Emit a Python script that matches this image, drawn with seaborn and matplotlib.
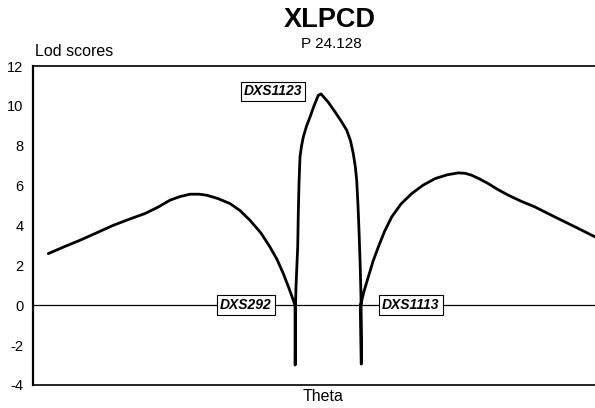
import matplotlib
matplotlib.use("Agg")
import matplotlib.pyplot as plt
import seaborn as sns
import pandas as pd

# theta position (arbitrary units along the map) and LOD score
theta = [15.3, 31, 47, 64, 80.3, 96, 112, 125, 137, 147, 157, 166, 173.7, 185,
         197, 207, 217, 228, 237, 244, 250.3, 256, 260.3, 262,
         262.2, 262.5, 263, 264.7, 265.3, 266, 267, 268.5, 270.3, 273.5, 277,
         281, 285.3, 288, 295, 302, 308, 313.7, 317.5, 320.3, 322.3, 323.7, 325,
         326, 327.2, 328, 328.3, 327.6, 331, 335.3, 340, 345.3, 351.5, 358.7,
         368, 378.7, 390, 402, 414, 425.3, 432, 438.7, 446, 455.3, 465, 475.3,
         488, 502, 515, 528.7, 545, 562]
lod = [2.59, 2.93, 3.26, 3.64, 4.01, 4.31, 4.6, 4.92, 5.27, 5.45, 5.57, 5.57, 5.52, 5.35,
       5.1, 4.75, 4.26, 3.62, 2.92, 2.3, 1.59, 0.85, 0.25, 0.0,
       -3.0, 0.0, 0.92, 2.92, 4.6, 6.1, 7.44, 7.98, 8.44, 8.98, 9.44,
       10.0, 10.53, 10.6, 10.2, 9.7, 9.25, 8.78, 8.25, 7.6, 6.95, 6.27, 5.0,
       3.76, 2.0, 0.42, -2.95, 0.0, 0.7, 1.42, 2.2, 2.92, 3.7, 4.43,
       5.08, 5.6, 6.02, 6.35, 6.54, 6.64, 6.62, 6.52, 6.35, 6.1, 5.8, 5.52,
       5.22, 4.93, 4.6, 4.26, 3.86, 3.43]

markers = ["DXS1123", "DXS292", "DXS1113"]
marker_x = [240, 213, 378]
marker_y = [10.73, 0, 0]

yticks = [-4, -2, 0, 2, 4, 6, 8, 10, 12]

sns.set_style("white")
plt.rcParams['font.family'] = ['Liberation Sans', 'DejaVu Sans']
plt.rcParams['text.color'] = 'black'
plt.rcParams['ytick.color'] = 'black'

fig = plt.figure(figsize=(5.95, 4.08), dpi=100)
ax = fig.add_axes([33/595, 1-385/408, 1-33/595, (385-66)/408])

df = pd.DataFrame({"theta": theta, "lod": lod})
ax.axhline(0, color="black", lw=0.9, zorder=1)
sns.lineplot(data=df, x="theta", y="lod", sort=False, estimator=None,
             color="black", lw=2.0, ax=ax, zorder=3)
ax.lines[-1].set_solid_joinstyle("round")

ax.set_xlim(0, 562)
ax.set_ylim(-4, 12)
ax.set_yticks(yticks)
ax.set_yticklabels([str(t) for t in yticks], fontsize=10.5)
ax.set_xticks([])
ax.tick_params(axis="y", length=0, pad=7, labelcolor="black")
ax.set_xlabel("")
ax.set_ylabel("")

for s in ["left", "top", "bottom"]:
    ax.spines[s].set_visible(True)
    ax.spines[s].set_color("black")
ax.spines["left"].set_linewidth(1.6)
ax.spines["top"].set_linewidth(1.2)
ax.spines["bottom"].set_linewidth(1.2)
ax.spines["right"].set_visible(False)

for name, mx, my in zip(markers, marker_x, marker_y):
    ax.text(mx, my, name, ha="center", va="center", fontsize=10,
            fontweight="bold", fontstyle="italic", zorder=5, color="black",
            bbox=dict(boxstyle="square,pad=0.2", fc="white", ec="black", lw=0.8))

fig.text(0.5546, 0.952, "XLPCD", ha="center", va="center", fontsize=19.5, fontweight="bold")
fig.text(0.5563, 0.893, "P 24.128", ha="center", va="center", fontsize=11)
fig.text(0.059, 0.873, "Lod scores", ha="left", va="center", fontsize=11.5)
fig.text(0.543, 0.027, "Theta", ha="center", va="center", fontsize=11.5)

fig.savefig("out.png", dpi=100)
